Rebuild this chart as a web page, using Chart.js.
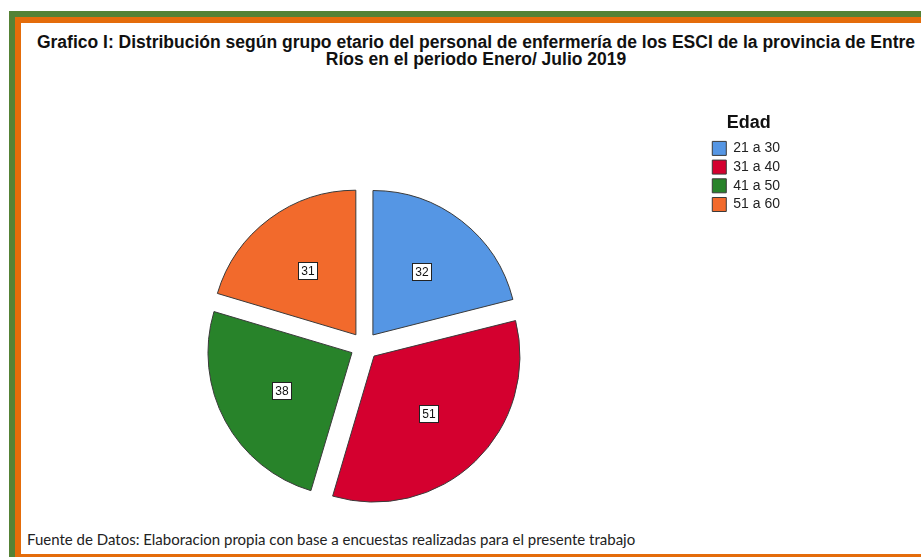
<!DOCTYPE html>
<html>
<head>
<meta charset="utf-8">
<title>Grafico I</title>
<script src="https://cdn.jsdelivr.net/npm/chart.js@4/dist/chart.umd.min.js"></script>
<style>
  html, body { margin: 0; padding: 0; background: #fff; width: 921px; height: 557px; overflow: hidden; }
  .frame-green { position: absolute; left: 9px; top: 11px; right: 0; bottom: 0; border-left: 6px solid #548235; border-top: 6px solid #548235; }
  .frame-orange { position: absolute; left: 15px; top: 17px; right: -10px; bottom: 0; border-left: 6px solid #e46c0a; border-top: 6px solid #e46c0a; border-bottom: 3px solid #e46c0a; }
  #title { position: absolute; left: 21px; width: 910px; top: 34px; text-align: center; font: bold 17.5px/17px "Liberation Sans", Arial, sans-serif; color: #111; white-space: nowrap; }
  #source { position: absolute; left: 27px; top: 531px; font: 15px/16px Lato, "Open Sans", sans-serif; color: #222; white-space: nowrap; }
  #chartBox { position: absolute; left: 21px; top: 23px; width: 769px; height: 646px; }
</style>
</head>
<body>
<div class="frame-green"></div>
<div class="frame-orange"></div>
<div id="title">Grafico I: Distribución según grupo etario del personal de enfermería de los ESCI de la provincia de Entre<br>Ríos en el periodo Enero/ Julio 2019</div>
<div id="source">Fuente de Datos: Elaboracion propia con base a encuestas realizadas para el presente trabajo</div>
<div id="chartBox"><canvas id="edadPie"></canvas></div>
<script>
const FONT = '"Liberation Sans", Arial, sans-serif';

// Edad groups and counts
const categories = ['21 a 30', '31 a 40', '41 a 50', '51 a 60'];
const counts = [32, 51, 38, 31];
const sliceColors = ['#5596e4', '#d4002f', '#28832a', '#f26a2c'];

// white boxes with the count, put inside every slice
const valueBoxes = {
    id: 'valueBoxes',
    afterDatasetsDraw(chart) {
        const ctx = chart.ctx;
        const meta = chart.getDatasetMeta(0);
        const values = chart.data.datasets[0].data;
        ctx.save();
        ctx.font = '12px ' + FONT;
        ctx.textAlign = 'center';
        ctx.textBaseline = 'middle';
        meta.data.forEach((arc, i) => {
            const p = arc.getProps(['x', 'y', 'startAngle', 'endAngle', 'outerRadius']);
            const mid = (p.startAngle + p.endAngle) / 2;
            const dist = arc.options.offset / 4 + p.outerRadius * 0.555;
            const x = Math.round(p.x + Math.cos(mid) * dist);
            const y = Math.round(p.y + Math.sin(mid) * dist);
            const text = String(values[i]);
            const w = Math.round(ctx.measureText(text).width + 6);
            const h = 17;
            const bx = x - Math.round(w / 2) + 0.5;
            const by = y - Math.round(h / 2) + 0.5;
            ctx.fillStyle = '#fff';
            ctx.fillRect(bx, by, w, h);
            ctx.strokeStyle = '#222';
            ctx.lineWidth = 1;
            ctx.strokeRect(bx, by, w, h);
            ctx.fillStyle = '#111';
            ctx.fillText(text, x, y + 1);
        });
        ctx.restore();
    }
};

const data = {
    labels: categories,
    datasets: [{
        label: 'Edad',
        data: counts,
        backgroundColor: sliceColors,
        borderColor: '#3a3a3a',
        borderWidth: 1,
        offset: 56,
        radius: 144,
    }]
};

const config = {
    type: 'pie',
    data: data,
    options: {
        responsive: true,
        maintainAspectRatio: false,
        animation: false,
        events: [],
        layout: { padding: 0 },
        plugins: {
            tooltip: { enabled: false },
            legend: {
                position: 'right',
                align: 'start',
                title: {
                    display: true,
                    text: 'Edad',
                    color: '#111',
                    font: { family: FONT, size: 18, weight: 'bold' },
                    padding: { top: 91.5, bottom: 0.6 }
                },
                labels: {
                    boxWidth: 14,
                    boxHeight: 14,
                    padding: 4.7,
                    color: '#222',
                    font: { family: FONT, size: 14 }
                }
            }
        }
    },
    plugins: [valueBoxes]
};

new Chart(document.getElementById('edadPie'), config);
</script>
</body>
</html>
